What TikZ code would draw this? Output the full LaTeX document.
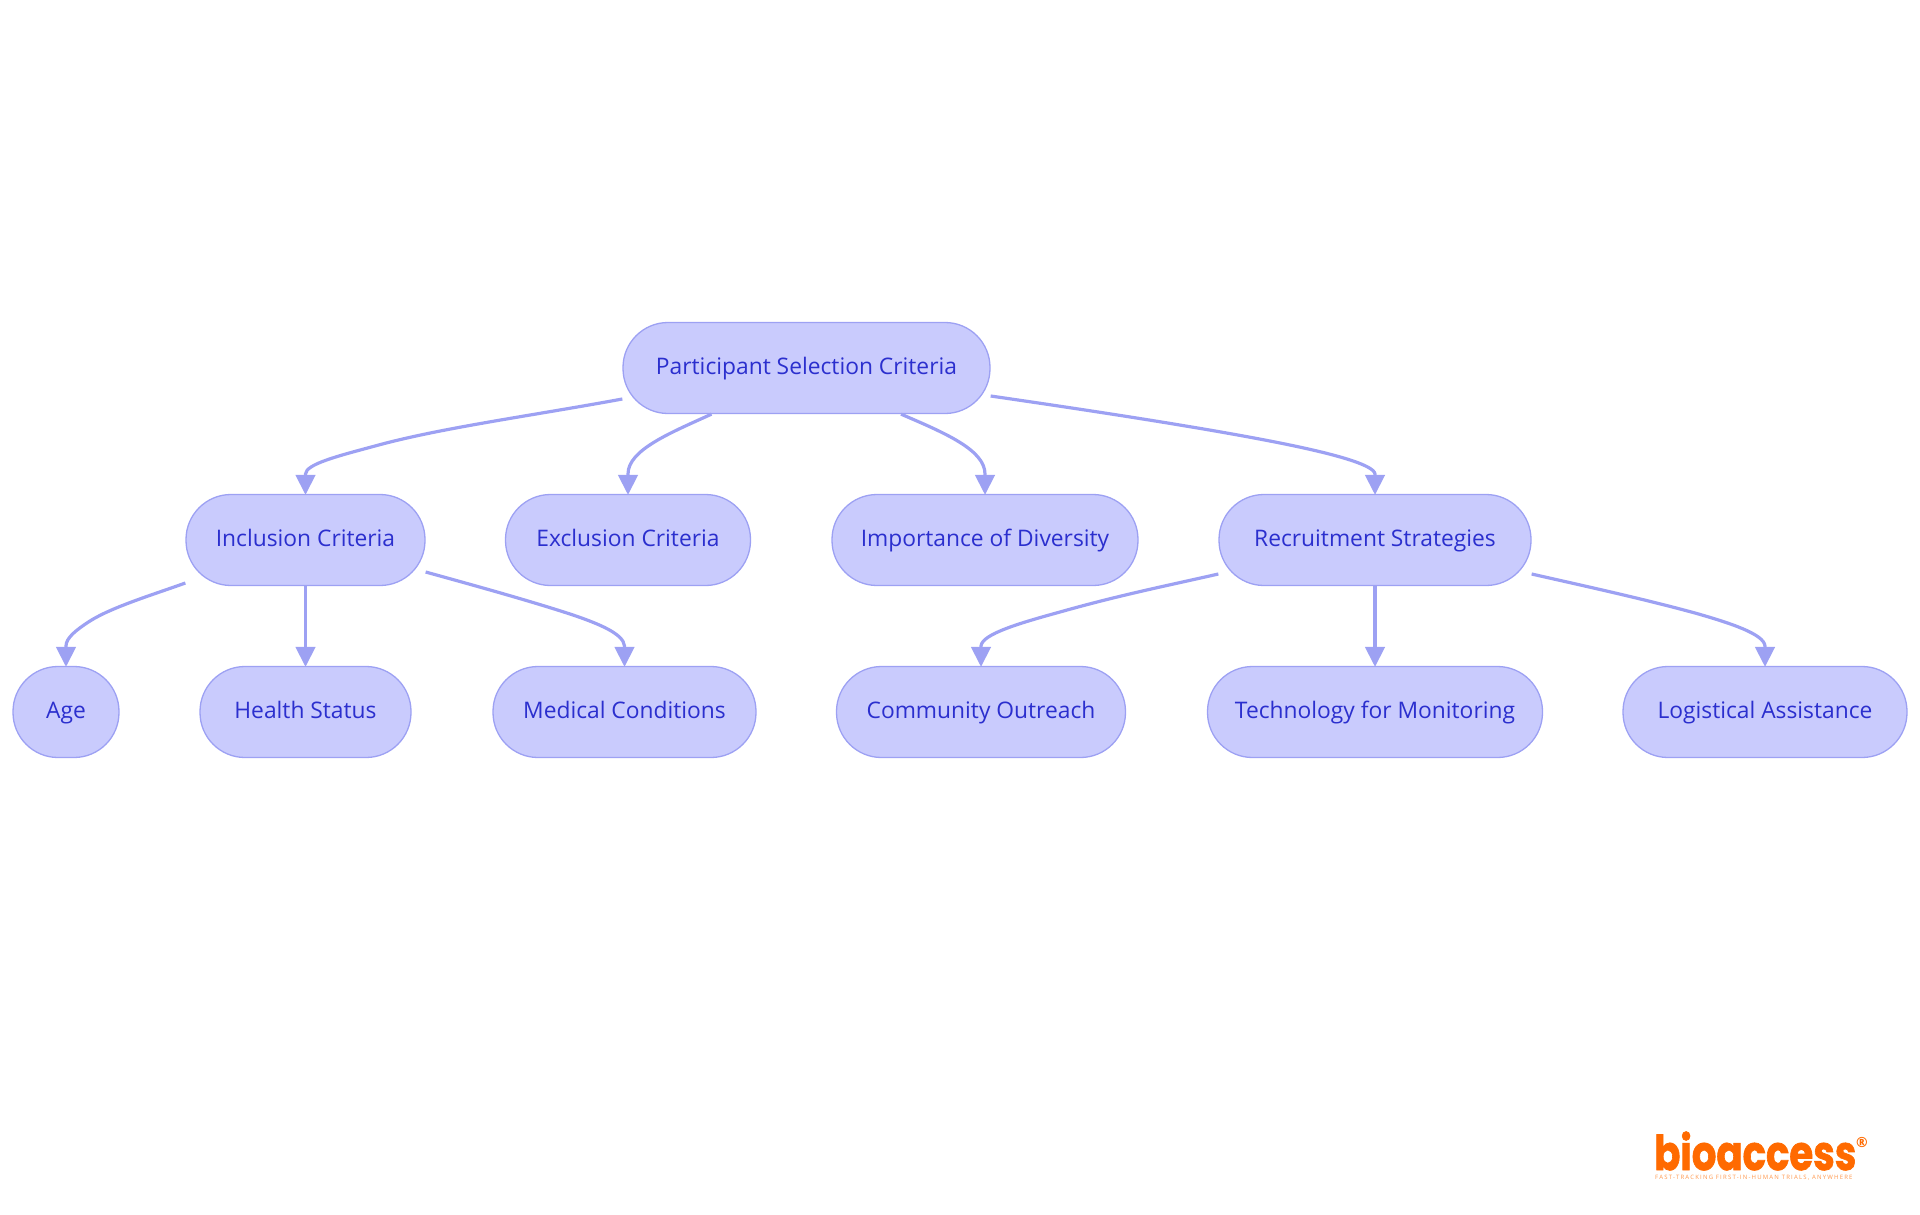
\documentclass[tikz,border=0pt]{standalone}
\usepackage{fontspec}
\setmainfont{Open Sans}
\newfontfamily\logofont[FakeBold=1.6]{Poppins}
\usetikzlibrary{arrows.meta,calc}
\definecolor{boxfill}{HTML}{C9CBFD}
\definecolor{boxline}{HTML}{9DA1F3}
\definecolor{boxtext}{HTML}{2B2FCE}
\definecolor{logoorange}{HTML}{FF6A00}
\tikzset{
  pill/.style={draw=boxline,line width=1.3pt,fill=boxfill,rounded corners=45pt,minimum height=91pt,inner sep=0pt,text=boxtext,text height=17pt,text depth=5pt,font=\fontsize{22.8}{26}\selectfont},
  link/.style={draw=boxline,line width=3.2pt,shorten >=-1pt,-{Triangle[length=20pt,width=19.5pt]}}
}
\begin{document}
\begin{tikzpicture}[x=1pt,y=-1pt]
\useasboundingbox (0,0) rectangle (1920,1215);
\node[pill,minimum width=367pt] (root) at (806.5,368) {Participant Selection Criteria};
\node[pill,minimum width=239pt] (inc) at (305.5,540) {Inclusion Criteria};
\node[pill,minimum width=245pt] (exc) at (628,540) {Exclusion Criteria};
\node[pill,minimum width=306pt] (imp) at (985,540) {Importance of Diversity};
\node[pill,minimum width=312pt] (rec) at (1375,540) {Recruitment Strategies};
\node[pill,minimum width=106pt] (age) at (66,712) {Age};
\node[pill,minimum width=211pt] (hea) at (305.5,712) {Health Status};
\node[pill,minimum width=263pt] (med) at (624.5,712) {Medical Conditions};
\node[pill,minimum width=289pt] (com) at (981,712) {Community Outreach};
\node[pill,minimum width=335pt] (tec) at (1375,712) {Technology for Monitoring};
\node[pill,minimum width=284pt] (log) at (1765,712) {Logistical Assistance};
\draw[link] ($(root.west)+(0,31)$) .. controls (530,416) and (440,428) .. (375,446) .. controls (338,456) and (306,464) .. (305.5,474) -- (inc.north);
\draw[link] ($(root.south)+(-95,0)$) .. controls (670,433) and (628,450) .. (628,474) -- (exc.north);
\draw[link] ($(root.south)+(94.5,0)$) .. controls (945,433) and (985,450) .. (985,474) -- (imp.north);
\draw[link] ($(root.east)+(0,28)$) .. controls (1080,409) and (1200,427) .. (1280,443) .. controls (1335,454) and (1374,465) .. (1375,474) -- (rec.north);
\draw[link] ($(inc.west)+(0,43)$) .. controls (155,594) and (112,607) .. (90,621) .. controls (76,630) and (66,638) .. (66,646) -- (age.north);
\draw[link] (inc.south) -- (hea.north);
\draw[link] ($(inc.east)+(0,32)$) .. controls (480,587) and (530,601) .. (570,614) .. controls (600,624) and (623.5,634) .. (624.5,646) -- (med.north);
\draw[link] ($(rec.west)+(0,34)$) .. controls (1170,585) and (1120,595) .. (1060,612) .. controls (1020,623) and (982,634) .. (981,646) -- (com.north);
\draw[link] (rec.south) -- (tec.north);
\draw[link] ($(rec.east)+(0,34)$) .. controls (1580,585) and (1640,598) .. (1695,613) .. controls (1730,623) and (1764,634) .. (1765,646) -- (log.north);
\node[anchor=base west,inner sep=0pt,text depth=0pt,text=logoorange,xscale=0.805,font=\logofont\bfseries\fontsize{48}{48}\selectfont] (logoword) at (1654,1170) {bioaccess};
\node[anchor=center,inner sep=0pt,text=logoorange,font=\bfseries\fontsize{14}{14}\selectfont] (logomark) at (1862,1142) {®};
\node[anchor=base west,inner sep=0pt,text height=4.5pt,text=logoorange!70,font=\fontsize{6}{7}\selectfont] (logotag) at (1655,1179) {\addfontfeature{LetterSpace=20}FAST-TRACKING FIRST-IN-HUMAN TRIALS, ANYWHERE};
\end{tikzpicture}
\end{document}
